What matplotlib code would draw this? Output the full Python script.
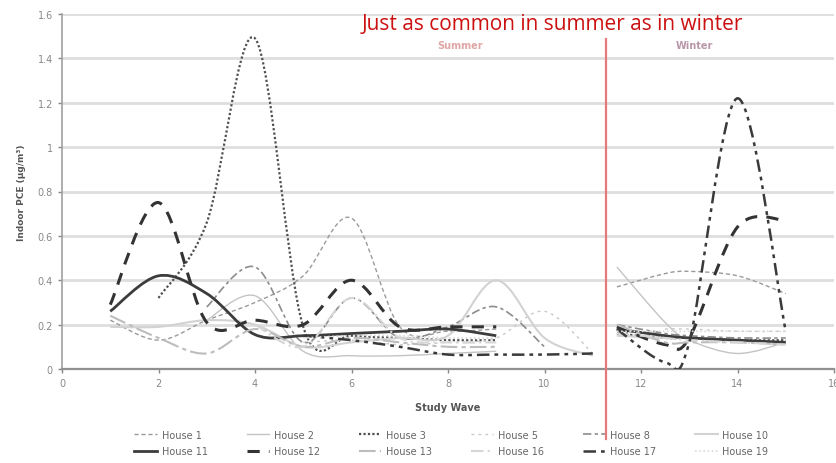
import numpy as np
import matplotlib
matplotlib.use("Agg")
import matplotlib.pyplot as plt
from matplotlib.path import Path
from matplotlib.patches import PathPatch
from matplotlib.lines import Line2D

nan = np.nan

# study waves (summer 1-11, winter after the split)
summer_waves = [1, 2, 3, 4, 5, 6, 7, 8, 9, 10, 11]
winter_waves = [11.5, 12.5, 13, 14, 15]
split_wave = 11.27

houses = ["House 1", "House 2", "House 3", "House 5", "House 8", "House 10",
          "House 11", "House 12", "House 13", "House 16", "House 17", "House 19"]

summer = {
    "House 1":  [0.22, 0.13, 0.22, 0.30, 0.42, 0.68, 0.19, 0.17, 0.18, nan, nan],
    "House 2":  [nan, nan, 0.22, 0.33, 0.08, 0.06, 0.06, 0.07, 0.08, nan, nan],
    "House 3":  [nan, 0.32, 0.66, 1.49, 0.19, 0.15, 0.14, 0.13, 0.13, nan, nan],
    "House 5":  [nan, nan, nan, nan, 0.12, 0.13, 0.11, 0.12, 0.14, 0.26, 0.07],
    "House 8":  [nan, nan, 0.28, 0.46, 0.12, 0.32, 0.14, 0.19, 0.28, 0.10, nan],
    "House 10": [0.19, 0.19, 0.22, 0.20, 0.10, 0.12, 0.14, 0.15, 0.40, 0.14, 0.06],
    "House 11": [0.26, 0.42, 0.34, 0.155, 0.15, 0.16, 0.17, 0.18, 0.15, nan, nan],
    "House 12": [0.29, 0.75, 0.21, 0.22, 0.20, 0.40, 0.19, 0.19, 0.19, nan, nan],
    "House 13": [0.24, 0.14, 0.07, 0.18, 0.10, 0.14, 0.12, 0.10, 0.10, nan, nan],
    "House 16": [nan, nan, nan, 0.20, 0.10, 0.32, 0.14, 0.12, 0.12, nan, nan],
    "House 17": [nan, nan, nan, nan, 0.15, 0.13, 0.10, 0.065, 0.065, 0.065, 0.07],
    "House 19": [nan, nan, nan, nan, 0.14, 0.15, 0.15, 0.14, 0.14, nan, nan],
}

winter = {
    "House 1":  [0.37, 0.43, 0.44, 0.42, 0.34],
    "House 2":  [0.46, 0.21, 0.13, 0.07, 0.12],
    "House 3":  [0.16, 0.14, 0.14, 0.13, 0.13],
    "House 5":  [nan, 0.18, 0.18, 0.17, 0.17],
    "House 8":  [0.20, 0.16, 0.15, 0.14, 0.14],
    "House 10": [0.15, 0.14, 0.14, 0.13, 0.12],
    "House 11": [0.18, 0.15, 0.14, 0.13, 0.12],
    "House 12": [0.19, 0.11, 0.14, 0.64, 0.67],
    "House 13": [0.20, 0.12, 0.12, 0.12, 0.11],
    "House 16": [0.16, 0.14, 0.13, 0.12, 0.11],
    "House 17": [0.18, 0.03, 0.12, 1.22, 0.17],
    "House 19": [0.17, 0.17, 0.17, 0.17, 0.17],
}

styles = {
    "House 1":  dict(color="#9a9a9a", lw=1.0, ls=(0, (3, 2))),
    "House 2":  dict(color="#c4c4c4", lw=1.0, ls="-"),
    "House 3":  dict(color="#505050", lw=1.6, ls=(0, (1, 1))),
    "House 5":  dict(color="#c8c8c8", lw=1.0, ls=(0, (2, 3))),
    "House 8":  dict(color="#8c8c8c", lw=1.2, ls=(0, (5, 2, 2, 2))),
    "House 10": dict(color="#d2d2d2", lw=1.5, ls="-"),
    "House 11": dict(color="#3c3c3c", lw=2.0, ls="-"),
    "House 12": dict(color="#333333", lw=2.2, ls=(0, (4, 3))),
    "House 13": dict(color="#bdbdbd", lw=1.5, ls=(0, (8, 2, 2, 2))),
    "House 16": dict(color="#d6d6d6", lw=1.5, ls=(0, (6, 2, 1, 2))),
    "House 17": dict(color="#3a3a3a", lw=1.8, ls=(0, (5, 2, 1.5, 2, 1.5, 2))),
    "House 19": dict(color="#dadada", lw=1.2, ls=(0, (1, 1.5))),
}


# smoothed line like a spreadsheet chart: Catmull-Rom as cubic Bezier path
def smooth_path(xs, ys):
    pts = np.column_stack([xs, ys])
    n = len(pts)
    verts = [pts[0]]
    codes = [Path.MOVETO]
    for i in range(n - 1):
        p0 = pts[i - 1] if i > 0 else pts[i]
        p1 = pts[i]
        p2 = pts[i + 1]
        p3 = pts[i + 2] if i + 2 < n else pts[i + 1]
        verts += [p1 + (p2 - p0) / 6, p2 - (p3 - p1) / 6, p2]
        codes += [Path.CURVE4] * 3
    return Path(verts, codes)


def draw_series(ax, xs, ys, st):
    xs = np.asarray(xs, float)
    ys = np.asarray(ys, float)
    ok = ~np.isnan(ys)
    # split into runs of valid points
    runs, cur = [], []
    for x, y, good in zip(xs, ys, ok):
        if good:
            cur.append((x, y))
        elif cur:
            runs.append(cur)
            cur = []
    if cur:
        runs.append(cur)
    for r in runs:
        if len(r) < 2:
            continue
        rx, ry = zip(*r)
        ax.add_patch(PathPatch(smooth_path(rx, ry), fill=False, edgecolor=st["color"],
                               lw=st["lw"], ls=st["ls"], capstyle="butt", zorder=3))


fig = plt.figure(figsize=(8.36, 4.64), dpi=100)
ax = fig.add_axes([62 / 836, 94 / 464, 772 / 836, 355 / 464])

for h in houses:
    draw_series(ax, summer_waves, summer[h], styles[h])
    draw_series(ax, winter_waves, winter[h], styles[h])

ax.set_xlim(0, 16)
ax.set_ylim(0, 1.6)
ax.set_xticks(range(0, 17, 2))
ax.set_yticks(np.arange(0, 1.61, 0.2))
ax.set_yticklabels(["0", "0.2", "0.4", "0.6", "0.8", "1", "1.2", "1.4", "1.6"])
ax.tick_params(labelsize=7, colors="#888888", length=3, width=1)
ax.grid(axis="y", color="#dedede", lw=2)
ax.set_axisbelow(True)
for s in ["top", "right"]:
    ax.spines[s].set_visible(False)
ax.spines["left"].set_color("#a0a0a0")
ax.spines["left"].set_linewidth(1.2)
ax.spines["bottom"].set_color("#909090")
ax.spines["bottom"].set_linewidth(1.6)

ax.set_ylabel("Indoor PCE (\u00b5g/m\u00b3)", fontsize=6.5, fontweight="bold", color="#555555", labelpad=8)
ax.set_xlabel("Study Wave", fontsize=7, fontweight="bold", color="#555555", labelpad=10)

# summer / winter divider
ax.plot([split_wave, split_wave], [-0.315, 1.486], color="#e67a7a", lw=1.6, clip_on=False, zorder=4)
ax.text(8.26, 1.46, "Summer", fontsize=7, fontweight="bold", color="#e0a6a6", ha="center", va="center")
ax.text(13.1, 1.46, "Winter", fontsize=7, fontweight="bold", color="#b897a8", ha="center", va="center")

fig.text(552 / 836, 1 - 25 / 464, "Just as common in summer as in winter", color="#cc1111",
         fontsize=15, family="Open Sans", ha="center", va="center")

# legend, two rows of six (column-major order for ncol=6)
order = [0, 6, 1, 7, 2, 8, 3, 9, 4, 10, 5, 11]
handles = [Line2D([], [], color=styles[houses[i]]["color"], lw=styles[houses[i]]["lw"],
                  ls=styles[houses[i]]["ls"]) for i in order]
labels = [houses[i] for i in order]
leg = fig.legend(handles, labels, ncol=6, loc="center", bbox_to_anchor=(0.54, 1 - 444 / 464),
                 frameon=False, fontsize=7, handlelength=2.3, columnspacing=4.0,
                 labelspacing=0.7, handletextpad=0.5)
for t in leg.get_texts():
    t.set_color("#666666")

fig.savefig("out.png", dpi=100)
